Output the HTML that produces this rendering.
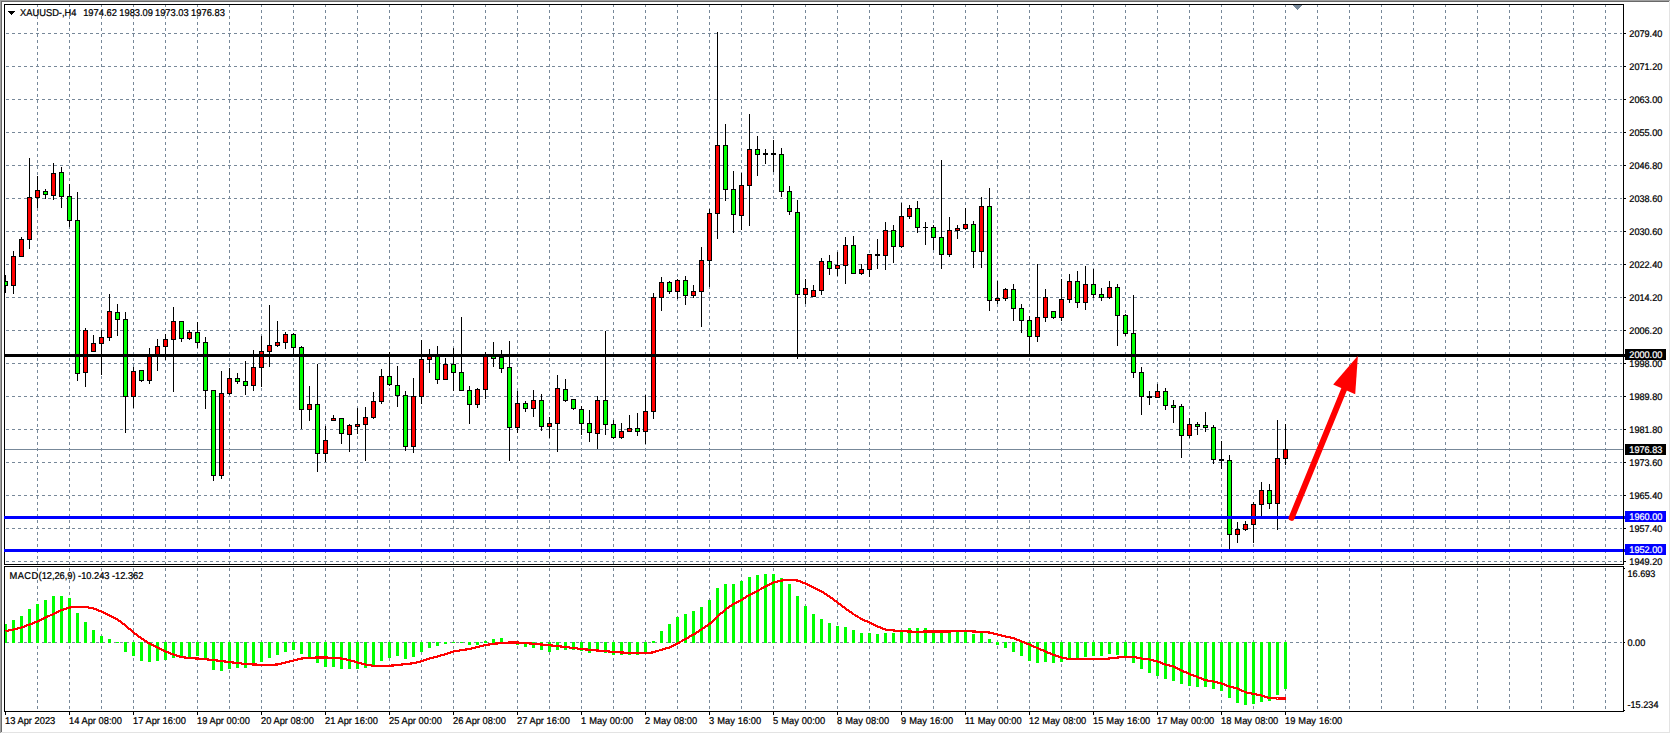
<!DOCTYPE html>
<html lang="en"><head><meta charset="utf-8"><title>XAUUSD-,H4</title>
<style>html,body{margin:0;padding:0;background:#fff;overflow:hidden}svg{display:block}text{font-family:"Liberation Sans",sans-serif;font-size:9.33px;fill:#000;stroke:#000;stroke-width:.22px}.w{fill:#fff;stroke:#fff}.d{word-spacing:.4px}.p,.w,.m{font-size:9.15px}</style></head><body>
<svg width="1671" height="734" viewBox="0 0 1671 734">
<rect x="0" y="0" width="1671" height="734" fill="#fff"/>
<g shape-rendering="crispEdges">
<rect x="0" y="0" width="1670" height="1" fill="#a0a0a0"/><rect x="0" y="0" width="1" height="733" fill="#a0a0a0"/>
<rect x="1" y="1" width="1668" height="1" fill="#696969"/><rect x="1" y="1" width="1" height="731" fill="#696969"/>
<rect x="1" y="732" width="1669" height="1" fill="#e3e3e3"/><rect x="1669" y="1" width="1" height="732" fill="#e3e3e3"/>
<g stroke="#778899" stroke-width="1" stroke-dasharray="3 3" fill="none">
<line x1="37.5" y1="4" x2="37.5" y2="564"/>
<line x1="37.5" y1="568" x2="37.5" y2="711"/>
<line x1="69.5" y1="4" x2="69.5" y2="564"/>
<line x1="69.5" y1="568" x2="69.5" y2="711"/>
<line x1="101.5" y1="4" x2="101.5" y2="564"/>
<line x1="101.5" y1="568" x2="101.5" y2="711"/>
<line x1="133.5" y1="4" x2="133.5" y2="564"/>
<line x1="133.5" y1="568" x2="133.5" y2="711"/>
<line x1="165.5" y1="4" x2="165.5" y2="564"/>
<line x1="165.5" y1="568" x2="165.5" y2="711"/>
<line x1="197.5" y1="4" x2="197.5" y2="564"/>
<line x1="197.5" y1="568" x2="197.5" y2="711"/>
<line x1="229.5" y1="4" x2="229.5" y2="564"/>
<line x1="229.5" y1="568" x2="229.5" y2="711"/>
<line x1="261.5" y1="4" x2="261.5" y2="564"/>
<line x1="261.5" y1="568" x2="261.5" y2="711"/>
<line x1="293.5" y1="4" x2="293.5" y2="564"/>
<line x1="293.5" y1="568" x2="293.5" y2="711"/>
<line x1="325.5" y1="4" x2="325.5" y2="564"/>
<line x1="325.5" y1="568" x2="325.5" y2="711"/>
<line x1="357.5" y1="4" x2="357.5" y2="564"/>
<line x1="357.5" y1="568" x2="357.5" y2="711"/>
<line x1="389.5" y1="4" x2="389.5" y2="564"/>
<line x1="389.5" y1="568" x2="389.5" y2="711"/>
<line x1="421.5" y1="4" x2="421.5" y2="564"/>
<line x1="421.5" y1="568" x2="421.5" y2="711"/>
<line x1="453.5" y1="4" x2="453.5" y2="564"/>
<line x1="453.5" y1="568" x2="453.5" y2="711"/>
<line x1="485.5" y1="4" x2="485.5" y2="564"/>
<line x1="485.5" y1="568" x2="485.5" y2="711"/>
<line x1="517.5" y1="4" x2="517.5" y2="564"/>
<line x1="517.5" y1="568" x2="517.5" y2="711"/>
<line x1="549.5" y1="4" x2="549.5" y2="564"/>
<line x1="549.5" y1="568" x2="549.5" y2="711"/>
<line x1="581.5" y1="4" x2="581.5" y2="564"/>
<line x1="581.5" y1="568" x2="581.5" y2="711"/>
<line x1="613.5" y1="4" x2="613.5" y2="564"/>
<line x1="613.5" y1="568" x2="613.5" y2="711"/>
<line x1="645.5" y1="4" x2="645.5" y2="564"/>
<line x1="645.5" y1="568" x2="645.5" y2="711"/>
<line x1="677.5" y1="4" x2="677.5" y2="564"/>
<line x1="677.5" y1="568" x2="677.5" y2="711"/>
<line x1="709.5" y1="4" x2="709.5" y2="564"/>
<line x1="709.5" y1="568" x2="709.5" y2="711"/>
<line x1="741.5" y1="4" x2="741.5" y2="564"/>
<line x1="741.5" y1="568" x2="741.5" y2="711"/>
<line x1="773.5" y1="4" x2="773.5" y2="564"/>
<line x1="773.5" y1="568" x2="773.5" y2="711"/>
<line x1="805.5" y1="4" x2="805.5" y2="564"/>
<line x1="805.5" y1="568" x2="805.5" y2="711"/>
<line x1="837.5" y1="4" x2="837.5" y2="564"/>
<line x1="837.5" y1="568" x2="837.5" y2="711"/>
<line x1="869.5" y1="4" x2="869.5" y2="564"/>
<line x1="869.5" y1="568" x2="869.5" y2="711"/>
<line x1="901.5" y1="4" x2="901.5" y2="564"/>
<line x1="901.5" y1="568" x2="901.5" y2="711"/>
<line x1="933.5" y1="4" x2="933.5" y2="564"/>
<line x1="933.5" y1="568" x2="933.5" y2="711"/>
<line x1="965.5" y1="4" x2="965.5" y2="564"/>
<line x1="965.5" y1="568" x2="965.5" y2="711"/>
<line x1="997.5" y1="4" x2="997.5" y2="564"/>
<line x1="997.5" y1="568" x2="997.5" y2="711"/>
<line x1="1029.5" y1="4" x2="1029.5" y2="564"/>
<line x1="1029.5" y1="568" x2="1029.5" y2="711"/>
<line x1="1061.5" y1="4" x2="1061.5" y2="564"/>
<line x1="1061.5" y1="568" x2="1061.5" y2="711"/>
<line x1="1093.5" y1="4" x2="1093.5" y2="564"/>
<line x1="1093.5" y1="568" x2="1093.5" y2="711"/>
<line x1="1125.5" y1="4" x2="1125.5" y2="564"/>
<line x1="1125.5" y1="568" x2="1125.5" y2="711"/>
<line x1="1157.5" y1="4" x2="1157.5" y2="564"/>
<line x1="1157.5" y1="568" x2="1157.5" y2="711"/>
<line x1="1189.5" y1="4" x2="1189.5" y2="564"/>
<line x1="1189.5" y1="568" x2="1189.5" y2="711"/>
<line x1="1221.5" y1="4" x2="1221.5" y2="564"/>
<line x1="1221.5" y1="568" x2="1221.5" y2="711"/>
<line x1="1253.5" y1="4" x2="1253.5" y2="564"/>
<line x1="1253.5" y1="568" x2="1253.5" y2="711"/>
<line x1="1285.5" y1="4" x2="1285.5" y2="564"/>
<line x1="1285.5" y1="568" x2="1285.5" y2="711"/>
<line x1="1317.5" y1="4" x2="1317.5" y2="564"/>
<line x1="1317.5" y1="568" x2="1317.5" y2="711"/>
<line x1="1349.5" y1="4" x2="1349.5" y2="564"/>
<line x1="1349.5" y1="568" x2="1349.5" y2="711"/>
<line x1="1381.5" y1="4" x2="1381.5" y2="564"/>
<line x1="1381.5" y1="568" x2="1381.5" y2="711"/>
<line x1="1413.5" y1="4" x2="1413.5" y2="564"/>
<line x1="1413.5" y1="568" x2="1413.5" y2="711"/>
<line x1="1445.5" y1="4" x2="1445.5" y2="564"/>
<line x1="1445.5" y1="568" x2="1445.5" y2="711"/>
<line x1="1477.5" y1="4" x2="1477.5" y2="564"/>
<line x1="1477.5" y1="568" x2="1477.5" y2="711"/>
<line x1="1509.5" y1="4" x2="1509.5" y2="564"/>
<line x1="1509.5" y1="568" x2="1509.5" y2="711"/>
<line x1="1541.5" y1="4" x2="1541.5" y2="564"/>
<line x1="1541.5" y1="568" x2="1541.5" y2="711"/>
<line x1="1573.5" y1="4" x2="1573.5" y2="564"/>
<line x1="1573.5" y1="568" x2="1573.5" y2="711"/>
<line x1="1605.5" y1="4" x2="1605.5" y2="564"/>
<line x1="1605.5" y1="568" x2="1605.5" y2="711"/>
<line x1="6" y1="33.5" x2="1622" y2="33.5"/>
<line x1="6" y1="66.5" x2="1622" y2="66.5"/>
<line x1="6" y1="99.5" x2="1622" y2="99.5"/>
<line x1="6" y1="132.5" x2="1622" y2="132.5"/>
<line x1="6" y1="165.5" x2="1622" y2="165.5"/>
<line x1="6" y1="198.5" x2="1622" y2="198.5"/>
<line x1="6" y1="231.5" x2="1622" y2="231.5"/>
<line x1="6" y1="264.5" x2="1622" y2="264.5"/>
<line x1="6" y1="297.5" x2="1622" y2="297.5"/>
<line x1="6" y1="330.5" x2="1622" y2="330.5"/>
<line x1="6" y1="363.5" x2="1622" y2="363.5"/>
<line x1="6" y1="396.5" x2="1622" y2="396.5"/>
<line x1="6" y1="429.5" x2="1622" y2="429.5"/>
<line x1="6" y1="462.5" x2="1622" y2="462.5"/>
<line x1="6" y1="495.5" x2="1622" y2="495.5"/>
<line x1="6" y1="528.5" x2="1622" y2="528.5"/>
<line x1="6" y1="561.5" x2="1622" y2="561.5"/>
<line x1="6" y1="642.5" x2="1622" y2="642.5"/>
</g>
<rect x="5" y="449" width="1618" height="1" fill="#778899"/>
<g fill="#778899"><rect x="1293" y="5" width="9" height="1"/><rect x="1294" y="6" width="7" height="1"/><rect x="1295" y="7" width="5" height="1"/><rect x="1296" y="8" width="3" height="1"/><rect x="1297" y="9" width="1" height="1"/></g>
</g>
<g shape-rendering="crispEdges">
<rect x="5" y="275" width="1" height="18" fill="#000"/>
<rect x="5" y="281" width="3" height="5" fill="#000"/>
<rect x="5" y="282" width="2" height="3" fill="#0f0"/>
<rect x="13" y="251" width="1" height="43" fill="#000"/>
<rect x="11" y="256" width="5" height="30" fill="#000"/>
<rect x="12" y="257" width="3" height="28" fill="#f00"/>
<rect x="21" y="237" width="1" height="20" fill="#000"/>
<rect x="19" y="239" width="5" height="18" fill="#000"/>
<rect x="20" y="240" width="3" height="16" fill="#f00"/>
<rect x="29" y="158" width="1" height="91" fill="#000"/>
<rect x="27" y="197" width="5" height="43" fill="#000"/>
<rect x="28" y="198" width="3" height="41" fill="#f00"/>
<rect x="37" y="176" width="1" height="32" fill="#000"/>
<rect x="35" y="190" width="5" height="8" fill="#000"/>
<rect x="36" y="191" width="3" height="6" fill="#f00"/>
<rect x="45" y="189" width="1" height="10" fill="#000"/>
<rect x="43" y="191" width="5" height="4" fill="#000"/>
<rect x="44" y="192" width="3" height="2" fill="#0f0"/>
<rect x="53" y="163" width="1" height="37" fill="#000"/>
<rect x="51" y="173" width="5" height="23" fill="#000"/>
<rect x="52" y="174" width="3" height="21" fill="#f00"/>
<rect x="61" y="167" width="1" height="41" fill="#000"/>
<rect x="59" y="172" width="5" height="25" fill="#000"/>
<rect x="60" y="173" width="3" height="23" fill="#0f0"/>
<rect x="69" y="184" width="1" height="43" fill="#000"/>
<rect x="67" y="196" width="5" height="25" fill="#000"/>
<rect x="68" y="197" width="3" height="23" fill="#0f0"/>
<rect x="77" y="192" width="1" height="189" fill="#000"/>
<rect x="75" y="220" width="5" height="154" fill="#000"/>
<rect x="76" y="221" width="3" height="152" fill="#0f0"/>
<rect x="85" y="328" width="1" height="59" fill="#000"/>
<rect x="83" y="330" width="5" height="43" fill="#000"/>
<rect x="84" y="331" width="3" height="41" fill="#f00"/>
<rect x="93" y="335" width="1" height="17" fill="#000"/>
<rect x="91" y="343" width="5" height="9" fill="#000"/>
<rect x="92" y="344" width="3" height="7" fill="#f00"/>
<rect x="101" y="330" width="1" height="45" fill="#000"/>
<rect x="99" y="337" width="5" height="7" fill="#000"/>
<rect x="100" y="338" width="3" height="5" fill="#f00"/>
<rect x="109" y="294" width="1" height="47" fill="#000"/>
<rect x="107" y="311" width="5" height="27" fill="#000"/>
<rect x="108" y="312" width="3" height="25" fill="#f00"/>
<rect x="117" y="304" width="1" height="32" fill="#000"/>
<rect x="115" y="312" width="5" height="8" fill="#000"/>
<rect x="116" y="313" width="3" height="6" fill="#0f0"/>
<rect x="125" y="312" width="1" height="121" fill="#000"/>
<rect x="123" y="319" width="5" height="78" fill="#000"/>
<rect x="124" y="320" width="3" height="76" fill="#0f0"/>
<rect x="133" y="367" width="1" height="41" fill="#000"/>
<rect x="131" y="371" width="5" height="26" fill="#000"/>
<rect x="132" y="372" width="3" height="24" fill="#f00"/>
<rect x="141" y="370" width="1" height="12" fill="#000"/>
<rect x="139" y="370" width="5" height="11" fill="#000"/>
<rect x="140" y="371" width="3" height="9" fill="#0f0"/>
<rect x="149" y="348" width="1" height="36" fill="#000"/>
<rect x="147" y="355" width="5" height="26" fill="#000"/>
<rect x="148" y="356" width="3" height="24" fill="#f00"/>
<rect x="157" y="339" width="1" height="32" fill="#000"/>
<rect x="155" y="346" width="5" height="10" fill="#000"/>
<rect x="156" y="347" width="3" height="8" fill="#f00"/>
<rect x="165" y="334" width="1" height="26" fill="#000"/>
<rect x="163" y="339" width="5" height="8" fill="#000"/>
<rect x="164" y="340" width="3" height="6" fill="#f00"/>
<rect x="173" y="307" width="1" height="85" fill="#000"/>
<rect x="171" y="321" width="5" height="19" fill="#000"/>
<rect x="172" y="322" width="3" height="17" fill="#f00"/>
<rect x="181" y="321" width="1" height="21" fill="#000"/>
<rect x="179" y="321" width="5" height="18" fill="#000"/>
<rect x="180" y="322" width="3" height="16" fill="#0f0"/>
<rect x="189" y="330" width="1" height="10" fill="#000"/>
<rect x="187" y="332" width="5" height="7" fill="#000"/>
<rect x="188" y="333" width="3" height="5" fill="#f00"/>
<rect x="197" y="322" width="1" height="26" fill="#000"/>
<rect x="195" y="332" width="5" height="11" fill="#000"/>
<rect x="196" y="333" width="3" height="9" fill="#0f0"/>
<rect x="205" y="337" width="1" height="72" fill="#000"/>
<rect x="203" y="342" width="5" height="49" fill="#000"/>
<rect x="204" y="343" width="3" height="47" fill="#0f0"/>
<rect x="213" y="390" width="1" height="91" fill="#000"/>
<rect x="211" y="390" width="5" height="86" fill="#000"/>
<rect x="212" y="391" width="3" height="84" fill="#0f0"/>
<rect x="221" y="371" width="1" height="108" fill="#000"/>
<rect x="219" y="393" width="5" height="83" fill="#000"/>
<rect x="220" y="394" width="3" height="81" fill="#f00"/>
<rect x="229" y="368" width="1" height="27" fill="#000"/>
<rect x="227" y="378" width="5" height="16" fill="#000"/>
<rect x="228" y="379" width="3" height="14" fill="#f00"/>
<rect x="237" y="373" width="1" height="11" fill="#000"/>
<rect x="235" y="378" width="5" height="4" fill="#000"/>
<rect x="236" y="379" width="3" height="2" fill="#0f0"/>
<rect x="245" y="361" width="1" height="34" fill="#000"/>
<rect x="243" y="381" width="5" height="5" fill="#000"/>
<rect x="244" y="382" width="3" height="3" fill="#0f0"/>
<rect x="253" y="350" width="1" height="41" fill="#000"/>
<rect x="251" y="367" width="5" height="19" fill="#000"/>
<rect x="252" y="368" width="3" height="17" fill="#f00"/>
<rect x="261" y="336" width="1" height="51" fill="#000"/>
<rect x="259" y="351" width="5" height="17" fill="#000"/>
<rect x="260" y="352" width="3" height="15" fill="#f00"/>
<rect x="269" y="305" width="1" height="62" fill="#000"/>
<rect x="267" y="345" width="5" height="7" fill="#000"/>
<rect x="268" y="346" width="3" height="5" fill="#f00"/>
<rect x="277" y="321" width="1" height="26" fill="#000"/>
<rect x="275" y="342" width="5" height="4" fill="#000"/>
<rect x="276" y="343" width="3" height="2" fill="#f00"/>
<rect x="285" y="332" width="1" height="17" fill="#000"/>
<rect x="283" y="334" width="5" height="9" fill="#000"/>
<rect x="284" y="335" width="3" height="7" fill="#f00"/>
<rect x="293" y="333" width="1" height="22" fill="#000"/>
<rect x="291" y="334" width="5" height="14" fill="#000"/>
<rect x="292" y="335" width="3" height="12" fill="#0f0"/>
<rect x="301" y="346" width="1" height="83" fill="#000"/>
<rect x="299" y="347" width="5" height="63" fill="#000"/>
<rect x="300" y="348" width="3" height="61" fill="#0f0"/>
<rect x="309" y="386" width="1" height="35" fill="#000"/>
<rect x="307" y="404" width="5" height="6" fill="#000"/>
<rect x="308" y="405" width="3" height="4" fill="#f00"/>
<rect x="317" y="364" width="1" height="108" fill="#000"/>
<rect x="315" y="404" width="5" height="50" fill="#000"/>
<rect x="316" y="405" width="3" height="48" fill="#0f0"/>
<rect x="325" y="426" width="1" height="36" fill="#000"/>
<rect x="323" y="440" width="5" height="14" fill="#000"/>
<rect x="324" y="441" width="3" height="12" fill="#f00"/>
<rect x="333" y="415" width="1" height="6" fill="#000"/>
<rect x="331" y="418" width="5" height="3" fill="#000"/>
<rect x="332" y="419" width="3" height="1" fill="#f00"/>
<rect x="341" y="418" width="1" height="26" fill="#000"/>
<rect x="339" y="418" width="5" height="16" fill="#000"/>
<rect x="340" y="419" width="3" height="14" fill="#0f0"/>
<rect x="349" y="424" width="1" height="28" fill="#000"/>
<rect x="347" y="425" width="5" height="10" fill="#000"/>
<rect x="348" y="426" width="3" height="8" fill="#f00"/>
<rect x="357" y="408" width="1" height="26" fill="#000"/>
<rect x="355" y="424" width="5" height="3" fill="#000"/>
<rect x="356" y="425" width="3" height="1" fill="#f00"/>
<rect x="365" y="407" width="1" height="54" fill="#000"/>
<rect x="363" y="417" width="5" height="8" fill="#000"/>
<rect x="364" y="418" width="3" height="6" fill="#f00"/>
<rect x="373" y="392" width="1" height="27" fill="#000"/>
<rect x="371" y="401" width="5" height="17" fill="#000"/>
<rect x="372" y="402" width="3" height="15" fill="#f00"/>
<rect x="381" y="369" width="1" height="35" fill="#000"/>
<rect x="379" y="376" width="5" height="26" fill="#000"/>
<rect x="380" y="377" width="3" height="24" fill="#f00"/>
<rect x="389" y="352" width="1" height="34" fill="#000"/>
<rect x="387" y="376" width="5" height="9" fill="#000"/>
<rect x="388" y="377" width="3" height="7" fill="#0f0"/>
<rect x="397" y="366" width="1" height="41" fill="#000"/>
<rect x="395" y="385" width="5" height="11" fill="#000"/>
<rect x="396" y="386" width="3" height="9" fill="#0f0"/>
<rect x="405" y="391" width="1" height="60" fill="#000"/>
<rect x="403" y="395" width="5" height="52" fill="#000"/>
<rect x="404" y="396" width="3" height="50" fill="#0f0"/>
<rect x="413" y="378" width="1" height="75" fill="#000"/>
<rect x="411" y="396" width="5" height="51" fill="#000"/>
<rect x="412" y="397" width="3" height="49" fill="#f00"/>
<rect x="421" y="340" width="1" height="64" fill="#000"/>
<rect x="419" y="359" width="5" height="38" fill="#000"/>
<rect x="420" y="360" width="3" height="36" fill="#f00"/>
<rect x="429" y="349" width="1" height="24" fill="#000"/>
<rect x="427" y="355" width="5" height="5" fill="#000"/>
<rect x="428" y="356" width="3" height="3" fill="#f00"/>
<rect x="437" y="346" width="1" height="38" fill="#000"/>
<rect x="435" y="355" width="5" height="25" fill="#000"/>
<rect x="436" y="356" width="3" height="23" fill="#0f0"/>
<rect x="445" y="358" width="1" height="22" fill="#000"/>
<rect x="443" y="364" width="5" height="16" fill="#000"/>
<rect x="444" y="365" width="3" height="14" fill="#f00"/>
<rect x="453" y="348" width="1" height="43" fill="#000"/>
<rect x="451" y="364" width="5" height="9" fill="#000"/>
<rect x="452" y="365" width="3" height="7" fill="#0f0"/>
<rect x="461" y="317" width="1" height="74" fill="#000"/>
<rect x="459" y="372" width="5" height="19" fill="#000"/>
<rect x="460" y="373" width="3" height="17" fill="#0f0"/>
<rect x="469" y="386" width="1" height="38" fill="#000"/>
<rect x="467" y="390" width="5" height="15" fill="#000"/>
<rect x="468" y="391" width="3" height="13" fill="#0f0"/>
<rect x="477" y="388" width="1" height="20" fill="#000"/>
<rect x="475" y="389" width="5" height="16" fill="#000"/>
<rect x="476" y="390" width="3" height="14" fill="#f00"/>
<rect x="485" y="352" width="1" height="47" fill="#000"/>
<rect x="483" y="355" width="5" height="35" fill="#000"/>
<rect x="484" y="356" width="3" height="33" fill="#f00"/>
<rect x="493" y="342" width="1" height="25" fill="#000"/>
<rect x="491" y="355" width="5" height="4" fill="#000"/>
<rect x="492" y="356" width="3" height="2" fill="#0f0"/>
<rect x="501" y="350" width="1" height="23" fill="#000"/>
<rect x="499" y="357" width="5" height="12" fill="#000"/>
<rect x="500" y="358" width="3" height="10" fill="#0f0"/>
<rect x="509" y="341" width="1" height="120" fill="#000"/>
<rect x="507" y="367" width="5" height="61" fill="#000"/>
<rect x="508" y="368" width="3" height="59" fill="#0f0"/>
<rect x="517" y="391" width="1" height="42" fill="#000"/>
<rect x="515" y="403" width="5" height="25" fill="#000"/>
<rect x="516" y="404" width="3" height="23" fill="#f00"/>
<rect x="525" y="401" width="1" height="11" fill="#000"/>
<rect x="523" y="403" width="5" height="6" fill="#000"/>
<rect x="524" y="404" width="3" height="4" fill="#0f0"/>
<rect x="533" y="390" width="1" height="27" fill="#000"/>
<rect x="531" y="400" width="5" height="9" fill="#000"/>
<rect x="532" y="401" width="3" height="7" fill="#f00"/>
<rect x="541" y="394" width="1" height="37" fill="#000"/>
<rect x="539" y="400" width="5" height="27" fill="#000"/>
<rect x="540" y="401" width="3" height="25" fill="#0f0"/>
<rect x="549" y="417" width="1" height="21" fill="#000"/>
<rect x="547" y="423" width="5" height="4" fill="#000"/>
<rect x="548" y="424" width="3" height="2" fill="#f00"/>
<rect x="557" y="375" width="1" height="77" fill="#000"/>
<rect x="555" y="388" width="5" height="36" fill="#000"/>
<rect x="556" y="389" width="3" height="34" fill="#f00"/>
<rect x="565" y="379" width="1" height="23" fill="#000"/>
<rect x="563" y="389" width="5" height="12" fill="#000"/>
<rect x="564" y="390" width="3" height="10" fill="#0f0"/>
<rect x="573" y="399" width="1" height="11" fill="#000"/>
<rect x="571" y="399" width="5" height="10" fill="#000"/>
<rect x="572" y="400" width="3" height="8" fill="#0f0"/>
<rect x="581" y="406" width="1" height="29" fill="#000"/>
<rect x="579" y="409" width="5" height="15" fill="#000"/>
<rect x="580" y="410" width="3" height="13" fill="#0f0"/>
<rect x="589" y="410" width="1" height="32" fill="#000"/>
<rect x="587" y="423" width="5" height="10" fill="#000"/>
<rect x="588" y="424" width="3" height="8" fill="#0f0"/>
<rect x="597" y="396" width="1" height="53" fill="#000"/>
<rect x="595" y="400" width="5" height="34" fill="#000"/>
<rect x="596" y="401" width="3" height="32" fill="#f00"/>
<rect x="605" y="331" width="1" height="104" fill="#000"/>
<rect x="603" y="400" width="5" height="25" fill="#000"/>
<rect x="604" y="401" width="3" height="23" fill="#0f0"/>
<rect x="613" y="420" width="1" height="19" fill="#000"/>
<rect x="611" y="424" width="5" height="14" fill="#000"/>
<rect x="612" y="425" width="3" height="12" fill="#0f0"/>
<rect x="621" y="423" width="1" height="16" fill="#000"/>
<rect x="619" y="431" width="5" height="7" fill="#000"/>
<rect x="620" y="432" width="3" height="5" fill="#f00"/>
<rect x="629" y="415" width="1" height="17" fill="#000"/>
<rect x="627" y="428" width="5" height="4" fill="#000"/>
<rect x="628" y="429" width="3" height="2" fill="#f00"/>
<rect x="637" y="413" width="1" height="23" fill="#000"/>
<rect x="635" y="428" width="5" height="4" fill="#000"/>
<rect x="636" y="429" width="3" height="2" fill="#0f0"/>
<rect x="645" y="395" width="1" height="49" fill="#000"/>
<rect x="643" y="411" width="5" height="21" fill="#000"/>
<rect x="644" y="412" width="3" height="19" fill="#f00"/>
<rect x="653" y="293" width="1" height="126" fill="#000"/>
<rect x="651" y="297" width="5" height="115" fill="#000"/>
<rect x="652" y="298" width="3" height="113" fill="#f00"/>
<rect x="661" y="277" width="1" height="34" fill="#000"/>
<rect x="659" y="282" width="5" height="16" fill="#000"/>
<rect x="660" y="283" width="3" height="14" fill="#f00"/>
<rect x="669" y="281" width="1" height="13" fill="#000"/>
<rect x="667" y="282" width="5" height="10" fill="#000"/>
<rect x="668" y="283" width="3" height="8" fill="#0f0"/>
<rect x="677" y="279" width="1" height="20" fill="#000"/>
<rect x="675" y="280" width="5" height="12" fill="#000"/>
<rect x="676" y="281" width="3" height="10" fill="#f00"/>
<rect x="685" y="276" width="1" height="29" fill="#000"/>
<rect x="683" y="280" width="5" height="16" fill="#000"/>
<rect x="684" y="281" width="3" height="14" fill="#0f0"/>
<rect x="693" y="285" width="1" height="13" fill="#000"/>
<rect x="691" y="291" width="5" height="5" fill="#000"/>
<rect x="692" y="292" width="3" height="3" fill="#f00"/>
<rect x="701" y="247" width="1" height="80" fill="#000"/>
<rect x="699" y="260" width="5" height="32" fill="#000"/>
<rect x="700" y="261" width="3" height="30" fill="#f00"/>
<rect x="709" y="209" width="1" height="78" fill="#000"/>
<rect x="707" y="213" width="5" height="48" fill="#000"/>
<rect x="708" y="214" width="3" height="46" fill="#f00"/>
<rect x="717" y="32" width="1" height="207" fill="#000"/>
<rect x="715" y="145" width="5" height="69" fill="#000"/>
<rect x="716" y="146" width="3" height="67" fill="#f00"/>
<rect x="725" y="124" width="1" height="77" fill="#000"/>
<rect x="723" y="145" width="5" height="45" fill="#000"/>
<rect x="724" y="146" width="3" height="43" fill="#0f0"/>
<rect x="733" y="171" width="1" height="62" fill="#000"/>
<rect x="731" y="189" width="5" height="26" fill="#000"/>
<rect x="732" y="190" width="3" height="24" fill="#0f0"/>
<rect x="741" y="173" width="1" height="57" fill="#000"/>
<rect x="739" y="185" width="5" height="31" fill="#000"/>
<rect x="740" y="186" width="3" height="29" fill="#f00"/>
<rect x="749" y="114" width="1" height="112" fill="#000"/>
<rect x="747" y="149" width="5" height="37" fill="#000"/>
<rect x="748" y="150" width="3" height="35" fill="#f00"/>
<rect x="757" y="136" width="1" height="40" fill="#000"/>
<rect x="755" y="149" width="5" height="6" fill="#000"/>
<rect x="756" y="150" width="3" height="4" fill="#0f0"/>
<rect x="765" y="149" width="1" height="15" fill="#000"/>
<rect x="763" y="153" width="5" height="2" fill="#000"/>
<rect x="773" y="140" width="1" height="32" fill="#000"/>
<rect x="771" y="153" width="5" height="2" fill="#000"/>
<rect x="781" y="148" width="1" height="49" fill="#000"/>
<rect x="779" y="154" width="5" height="38" fill="#000"/>
<rect x="780" y="155" width="3" height="36" fill="#0f0"/>
<rect x="789" y="186" width="1" height="29" fill="#000"/>
<rect x="787" y="191" width="5" height="21" fill="#000"/>
<rect x="788" y="192" width="3" height="19" fill="#0f0"/>
<rect x="797" y="200" width="1" height="159" fill="#000"/>
<rect x="795" y="212" width="5" height="83" fill="#000"/>
<rect x="796" y="213" width="3" height="81" fill="#0f0"/>
<rect x="805" y="279" width="1" height="25" fill="#000"/>
<rect x="803" y="288" width="5" height="7" fill="#000"/>
<rect x="804" y="289" width="3" height="5" fill="#f00"/>
<rect x="813" y="285" width="1" height="12" fill="#000"/>
<rect x="811" y="290" width="5" height="7" fill="#000"/>
<rect x="812" y="291" width="3" height="5" fill="#f00"/>
<rect x="821" y="258" width="1" height="37" fill="#000"/>
<rect x="819" y="261" width="5" height="30" fill="#000"/>
<rect x="820" y="262" width="3" height="28" fill="#f00"/>
<rect x="829" y="255" width="1" height="20" fill="#000"/>
<rect x="827" y="261" width="5" height="8" fill="#000"/>
<rect x="828" y="262" width="3" height="6" fill="#0f0"/>
<rect x="837" y="252" width="1" height="24" fill="#000"/>
<rect x="835" y="265" width="5" height="4" fill="#000"/>
<rect x="836" y="266" width="3" height="2" fill="#f00"/>
<rect x="845" y="237" width="1" height="47" fill="#000"/>
<rect x="843" y="245" width="5" height="21" fill="#000"/>
<rect x="844" y="246" width="3" height="19" fill="#f00"/>
<rect x="853" y="236" width="1" height="38" fill="#000"/>
<rect x="851" y="245" width="5" height="29" fill="#000"/>
<rect x="852" y="246" width="3" height="27" fill="#0f0"/>
<rect x="861" y="264" width="1" height="11" fill="#000"/>
<rect x="859" y="269" width="5" height="5" fill="#000"/>
<rect x="860" y="270" width="3" height="3" fill="#f00"/>
<rect x="869" y="254" width="1" height="23" fill="#000"/>
<rect x="867" y="254" width="5" height="16" fill="#000"/>
<rect x="868" y="255" width="3" height="14" fill="#f00"/>
<rect x="877" y="239" width="1" height="30" fill="#000"/>
<rect x="875" y="254" width="5" height="2" fill="#000"/>
<rect x="885" y="222" width="1" height="48" fill="#000"/>
<rect x="883" y="230" width="5" height="26" fill="#000"/>
<rect x="884" y="231" width="3" height="24" fill="#f00"/>
<rect x="893" y="225" width="1" height="38" fill="#000"/>
<rect x="891" y="230" width="5" height="17" fill="#000"/>
<rect x="892" y="231" width="3" height="15" fill="#0f0"/>
<rect x="901" y="203" width="1" height="45" fill="#000"/>
<rect x="899" y="216" width="5" height="31" fill="#000"/>
<rect x="900" y="217" width="3" height="29" fill="#f00"/>
<rect x="909" y="205" width="1" height="14" fill="#000"/>
<rect x="907" y="208" width="5" height="9" fill="#000"/>
<rect x="908" y="209" width="3" height="7" fill="#f00"/>
<rect x="917" y="201" width="1" height="32" fill="#000"/>
<rect x="915" y="208" width="5" height="20" fill="#000"/>
<rect x="916" y="209" width="3" height="18" fill="#0f0"/>
<rect x="925" y="222" width="1" height="23" fill="#000"/>
<rect x="923" y="227" width="5" height="1" fill="#000"/>
<rect x="933" y="225" width="1" height="25" fill="#000"/>
<rect x="931" y="227" width="5" height="11" fill="#000"/>
<rect x="932" y="228" width="3" height="9" fill="#0f0"/>
<rect x="941" y="160" width="1" height="109" fill="#000"/>
<rect x="939" y="237" width="5" height="18" fill="#000"/>
<rect x="940" y="238" width="3" height="16" fill="#0f0"/>
<rect x="949" y="217" width="1" height="40" fill="#000"/>
<rect x="947" y="230" width="5" height="25" fill="#000"/>
<rect x="948" y="231" width="3" height="23" fill="#f00"/>
<rect x="957" y="225" width="1" height="14" fill="#000"/>
<rect x="955" y="228" width="5" height="3" fill="#000"/>
<rect x="956" y="229" width="3" height="1" fill="#f00"/>
<rect x="965" y="208" width="1" height="22" fill="#000"/>
<rect x="963" y="224" width="5" height="5" fill="#000"/>
<rect x="964" y="225" width="3" height="3" fill="#f00"/>
<rect x="973" y="221" width="1" height="47" fill="#000"/>
<rect x="971" y="224" width="5" height="28" fill="#000"/>
<rect x="972" y="225" width="3" height="26" fill="#0f0"/>
<rect x="981" y="197" width="1" height="71" fill="#000"/>
<rect x="979" y="206" width="5" height="46" fill="#000"/>
<rect x="980" y="207" width="3" height="44" fill="#f00"/>
<rect x="989" y="188" width="1" height="123" fill="#000"/>
<rect x="987" y="206" width="5" height="95" fill="#000"/>
<rect x="988" y="207" width="3" height="93" fill="#0f0"/>
<rect x="997" y="281" width="1" height="23" fill="#000"/>
<rect x="995" y="298" width="5" height="3" fill="#000"/>
<rect x="996" y="299" width="3" height="1" fill="#f00"/>
<rect x="1005" y="288" width="1" height="13" fill="#000"/>
<rect x="1003" y="289" width="5" height="10" fill="#000"/>
<rect x="1004" y="290" width="3" height="8" fill="#f00"/>
<rect x="1013" y="284" width="1" height="37" fill="#000"/>
<rect x="1011" y="289" width="5" height="20" fill="#000"/>
<rect x="1012" y="290" width="3" height="18" fill="#0f0"/>
<rect x="1021" y="304" width="1" height="29" fill="#000"/>
<rect x="1019" y="308" width="5" height="13" fill="#000"/>
<rect x="1020" y="309" width="3" height="11" fill="#0f0"/>
<rect x="1029" y="316" width="1" height="38" fill="#000"/>
<rect x="1027" y="320" width="5" height="17" fill="#000"/>
<rect x="1028" y="321" width="3" height="15" fill="#0f0"/>
<rect x="1037" y="264" width="1" height="78" fill="#000"/>
<rect x="1035" y="317" width="5" height="20" fill="#000"/>
<rect x="1036" y="318" width="3" height="18" fill="#f00"/>
<rect x="1045" y="289" width="1" height="33" fill="#000"/>
<rect x="1043" y="297" width="5" height="21" fill="#000"/>
<rect x="1044" y="298" width="3" height="19" fill="#f00"/>
<rect x="1053" y="311" width="1" height="8" fill="#000"/>
<rect x="1051" y="311" width="5" height="7" fill="#000"/>
<rect x="1052" y="312" width="3" height="5" fill="#0f0"/>
<rect x="1061" y="279" width="1" height="42" fill="#000"/>
<rect x="1059" y="299" width="5" height="19" fill="#000"/>
<rect x="1060" y="300" width="3" height="17" fill="#f00"/>
<rect x="1069" y="274" width="1" height="29" fill="#000"/>
<rect x="1067" y="281" width="5" height="19" fill="#000"/>
<rect x="1068" y="282" width="3" height="17" fill="#f00"/>
<rect x="1077" y="271" width="1" height="37" fill="#000"/>
<rect x="1075" y="281" width="5" height="22" fill="#000"/>
<rect x="1076" y="282" width="3" height="20" fill="#0f0"/>
<rect x="1085" y="266" width="1" height="44" fill="#000"/>
<rect x="1083" y="284" width="5" height="19" fill="#000"/>
<rect x="1084" y="285" width="3" height="17" fill="#f00"/>
<rect x="1093" y="269" width="1" height="29" fill="#000"/>
<rect x="1091" y="284" width="5" height="11" fill="#000"/>
<rect x="1092" y="285" width="3" height="9" fill="#0f0"/>
<rect x="1101" y="288" width="1" height="13" fill="#000"/>
<rect x="1099" y="294" width="5" height="4" fill="#000"/>
<rect x="1100" y="295" width="3" height="2" fill="#0f0"/>
<rect x="1109" y="281" width="1" height="18" fill="#000"/>
<rect x="1107" y="287" width="5" height="11" fill="#000"/>
<rect x="1108" y="288" width="3" height="9" fill="#f00"/>
<rect x="1117" y="284" width="1" height="62" fill="#000"/>
<rect x="1115" y="287" width="5" height="29" fill="#000"/>
<rect x="1116" y="288" width="3" height="27" fill="#0f0"/>
<rect x="1125" y="314" width="1" height="22" fill="#000"/>
<rect x="1123" y="315" width="5" height="19" fill="#000"/>
<rect x="1124" y="316" width="3" height="17" fill="#0f0"/>
<rect x="1133" y="295" width="1" height="83" fill="#000"/>
<rect x="1131" y="333" width="5" height="40" fill="#000"/>
<rect x="1132" y="334" width="3" height="38" fill="#0f0"/>
<rect x="1141" y="367" width="1" height="48" fill="#000"/>
<rect x="1139" y="372" width="5" height="25" fill="#000"/>
<rect x="1140" y="373" width="3" height="23" fill="#0f0"/>
<rect x="1149" y="391" width="1" height="14" fill="#000"/>
<rect x="1147" y="396" width="5" height="2" fill="#000"/>
<rect x="1157" y="384" width="1" height="14" fill="#000"/>
<rect x="1155" y="391" width="5" height="7" fill="#000"/>
<rect x="1156" y="392" width="3" height="5" fill="#f00"/>
<rect x="1165" y="388" width="1" height="22" fill="#000"/>
<rect x="1163" y="391" width="5" height="15" fill="#000"/>
<rect x="1164" y="392" width="3" height="13" fill="#0f0"/>
<rect x="1173" y="400" width="1" height="23" fill="#000"/>
<rect x="1171" y="405" width="5" height="3" fill="#000"/>
<rect x="1172" y="406" width="3" height="1" fill="#0f0"/>
<rect x="1181" y="404" width="1" height="54" fill="#000"/>
<rect x="1179" y="406" width="5" height="30" fill="#000"/>
<rect x="1180" y="407" width="3" height="28" fill="#0f0"/>
<rect x="1189" y="418" width="1" height="20" fill="#000"/>
<rect x="1187" y="424" width="5" height="12" fill="#000"/>
<rect x="1188" y="425" width="3" height="10" fill="#f00"/>
<rect x="1197" y="422" width="1" height="13" fill="#000"/>
<rect x="1195" y="424" width="5" height="3" fill="#000"/>
<rect x="1196" y="425" width="3" height="1" fill="#0f0"/>
<rect x="1205" y="412" width="1" height="20" fill="#000"/>
<rect x="1203" y="425" width="5" height="3" fill="#000"/>
<rect x="1204" y="426" width="3" height="1" fill="#0f0"/>
<rect x="1213" y="425" width="1" height="39" fill="#000"/>
<rect x="1211" y="427" width="5" height="33" fill="#000"/>
<rect x="1212" y="428" width="3" height="31" fill="#0f0"/>
<rect x="1221" y="441" width="1" height="28" fill="#000"/>
<rect x="1219" y="459" width="5" height="2" fill="#000"/>
<rect x="1229" y="455" width="1" height="94" fill="#000"/>
<rect x="1227" y="460" width="5" height="75" fill="#000"/>
<rect x="1228" y="461" width="3" height="73" fill="#0f0"/>
<rect x="1237" y="522" width="1" height="21" fill="#000"/>
<rect x="1235" y="529" width="5" height="6" fill="#000"/>
<rect x="1236" y="530" width="3" height="4" fill="#f00"/>
<rect x="1245" y="521" width="1" height="10" fill="#000"/>
<rect x="1243" y="524" width="5" height="6" fill="#000"/>
<rect x="1244" y="525" width="3" height="4" fill="#f00"/>
<rect x="1253" y="502" width="1" height="41" fill="#000"/>
<rect x="1251" y="504" width="5" height="21" fill="#000"/>
<rect x="1252" y="505" width="3" height="19" fill="#f00"/>
<rect x="1261" y="482" width="1" height="35" fill="#000"/>
<rect x="1259" y="490" width="5" height="15" fill="#000"/>
<rect x="1260" y="491" width="3" height="13" fill="#f00"/>
<rect x="1269" y="484" width="1" height="25" fill="#000"/>
<rect x="1267" y="490" width="5" height="14" fill="#000"/>
<rect x="1268" y="491" width="3" height="12" fill="#0f0"/>
<rect x="1277" y="420" width="1" height="110" fill="#000"/>
<rect x="1275" y="458" width="5" height="46" fill="#000"/>
<rect x="1276" y="459" width="3" height="44" fill="#f00"/>
<rect x="1285" y="424" width="1" height="41" fill="#000"/>
<rect x="1283" y="449" width="5" height="10" fill="#000"/>
<rect x="1284" y="450" width="3" height="8" fill="#f00"/>
</g>
<g shape-rendering="crispEdges" fill="#0f0">
<rect x="5" y="624" width="2" height="19"/>
<rect x="12" y="620" width="3" height="23"/>
<rect x="20" y="616" width="3" height="27"/>
<rect x="28" y="609" width="3" height="34"/>
<rect x="36" y="604" width="3" height="39"/>
<rect x="44" y="600" width="3" height="43"/>
<rect x="52" y="596" width="3" height="47"/>
<rect x="60" y="596" width="3" height="47"/>
<rect x="68" y="598" width="3" height="45"/>
<rect x="76" y="613" width="3" height="30"/>
<rect x="84" y="622" width="3" height="21"/>
<rect x="92" y="630" width="3" height="13"/>
<rect x="100" y="636" width="3" height="7"/>
<rect x="108" y="639" width="3" height="4"/>
<rect x="116" y="642" width="3" height="1"/>
<rect x="124" y="642" width="3" height="10"/>
<rect x="132" y="642" width="3" height="14"/>
<rect x="140" y="642" width="3" height="19"/>
<rect x="148" y="642" width="3" height="20"/>
<rect x="156" y="642" width="3" height="19"/>
<rect x="164" y="642" width="3" height="18"/>
<rect x="172" y="642" width="3" height="16"/>
<rect x="180" y="642" width="3" height="14"/>
<rect x="188" y="642" width="3" height="15"/>
<rect x="196" y="642" width="3" height="14"/>
<rect x="204" y="642" width="3" height="18"/>
<rect x="212" y="642" width="3" height="28"/>
<rect x="220" y="642" width="3" height="29"/>
<rect x="228" y="642" width="3" height="27"/>
<rect x="236" y="642" width="3" height="26"/>
<rect x="244" y="642" width="3" height="26"/>
<rect x="252" y="642" width="3" height="23"/>
<rect x="260" y="642" width="3" height="20"/>
<rect x="268" y="642" width="3" height="16"/>
<rect x="276" y="642" width="3" height="13"/>
<rect x="284" y="642" width="3" height="10"/>
<rect x="292" y="642" width="3" height="8"/>
<rect x="300" y="642" width="3" height="12"/>
<rect x="308" y="642" width="3" height="16"/>
<rect x="316" y="642" width="3" height="21"/>
<rect x="324" y="642" width="3" height="25"/>
<rect x="332" y="642" width="3" height="25"/>
<rect x="340" y="642" width="3" height="27"/>
<rect x="348" y="642" width="3" height="27"/>
<rect x="356" y="642" width="3" height="27"/>
<rect x="364" y="642" width="3" height="26"/>
<rect x="372" y="642" width="3" height="23"/>
<rect x="380" y="642" width="3" height="19"/>
<rect x="388" y="642" width="3" height="16"/>
<rect x="396" y="642" width="3" height="14"/>
<rect x="404" y="642" width="3" height="17"/>
<rect x="412" y="642" width="3" height="15"/>
<rect x="420" y="642" width="3" height="10"/>
<rect x="428" y="642" width="3" height="6"/>
<rect x="436" y="642" width="3" height="4"/>
<rect x="444" y="642" width="3" height="2"/>
<rect x="452" y="642" width="3" height="1"/>
<rect x="460" y="642" width="3" height="1"/>
<rect x="468" y="642" width="3" height="3"/>
<rect x="476" y="642" width="3" height="3"/>
<rect x="484" y="641" width="3" height="2"/>
<rect x="492" y="639" width="3" height="4"/>
<rect x="500" y="638" width="3" height="5"/>
<rect x="508" y="642" width="3" height="2"/>
<rect x="516" y="642" width="3" height="3"/>
<rect x="524" y="642" width="3" height="5"/>
<rect x="532" y="642" width="3" height="6"/>
<rect x="540" y="642" width="3" height="8"/>
<rect x="548" y="642" width="3" height="10"/>
<rect x="556" y="642" width="3" height="8"/>
<rect x="564" y="642" width="3" height="8"/>
<rect x="572" y="642" width="3" height="8"/>
<rect x="580" y="642" width="3" height="9"/>
<rect x="588" y="642" width="3" height="11"/>
<rect x="596" y="642" width="3" height="10"/>
<rect x="604" y="642" width="3" height="11"/>
<rect x="612" y="642" width="3" height="13"/>
<rect x="620" y="642" width="3" height="13"/>
<rect x="628" y="642" width="3" height="13"/>
<rect x="636" y="642" width="3" height="13"/>
<rect x="644" y="642" width="3" height="12"/>
<rect x="652" y="641" width="3" height="2"/>
<rect x="660" y="631" width="3" height="12"/>
<rect x="668" y="624" width="3" height="19"/>
<rect x="676" y="617" width="3" height="26"/>
<rect x="684" y="614" width="3" height="29"/>
<rect x="692" y="611" width="3" height="32"/>
<rect x="700" y="607" width="3" height="36"/>
<rect x="708" y="600" width="3" height="43"/>
<rect x="716" y="588" width="3" height="55"/>
<rect x="724" y="584" width="3" height="59"/>
<rect x="732" y="584" width="3" height="59"/>
<rect x="740" y="581" width="3" height="62"/>
<rect x="748" y="577" width="3" height="66"/>
<rect x="756" y="575" width="3" height="68"/>
<rect x="764" y="574" width="3" height="69"/>
<rect x="772" y="574" width="3" height="69"/>
<rect x="780" y="578" width="3" height="65"/>
<rect x="788" y="584" width="3" height="59"/>
<rect x="796" y="596" width="3" height="47"/>
<rect x="804" y="606" width="3" height="37"/>
<rect x="812" y="614" width="3" height="29"/>
<rect x="820" y="619" width="3" height="24"/>
<rect x="828" y="623" width="3" height="20"/>
<rect x="836" y="626" width="3" height="17"/>
<rect x="844" y="627" width="3" height="16"/>
<rect x="852" y="630" width="3" height="13"/>
<rect x="860" y="633" width="3" height="10"/>
<rect x="868" y="633" width="3" height="10"/>
<rect x="876" y="634" width="3" height="9"/>
<rect x="884" y="633" width="3" height="10"/>
<rect x="892" y="633" width="3" height="10"/>
<rect x="900" y="631" width="3" height="12"/>
<rect x="908" y="628" width="3" height="15"/>
<rect x="916" y="628" width="3" height="15"/>
<rect x="924" y="628" width="3" height="15"/>
<rect x="932" y="630" width="3" height="13"/>
<rect x="940" y="631" width="3" height="12"/>
<rect x="948" y="631" width="3" height="12"/>
<rect x="956" y="630" width="3" height="13"/>
<rect x="964" y="631" width="3" height="12"/>
<rect x="972" y="634" width="3" height="9"/>
<rect x="980" y="632" width="3" height="11"/>
<rect x="988" y="639" width="3" height="4"/>
<rect x="996" y="642" width="3" height="3"/>
<rect x="1004" y="642" width="3" height="6"/>
<rect x="1012" y="642" width="3" height="10"/>
<rect x="1020" y="642" width="3" height="14"/>
<rect x="1028" y="642" width="3" height="19"/>
<rect x="1036" y="642" width="3" height="21"/>
<rect x="1044" y="642" width="3" height="20"/>
<rect x="1052" y="642" width="3" height="21"/>
<rect x="1060" y="642" width="3" height="20"/>
<rect x="1068" y="642" width="3" height="16"/>
<rect x="1076" y="642" width="3" height="16"/>
<rect x="1084" y="642" width="3" height="15"/>
<rect x="1092" y="642" width="3" height="14"/>
<rect x="1100" y="642" width="3" height="14"/>
<rect x="1108" y="642" width="3" height="12"/>
<rect x="1116" y="642" width="3" height="13"/>
<rect x="1124" y="642" width="3" height="16"/>
<rect x="1132" y="642" width="3" height="21"/>
<rect x="1140" y="642" width="3" height="27"/>
<rect x="1148" y="642" width="3" height="31"/>
<rect x="1156" y="642" width="3" height="34"/>
<rect x="1164" y="642" width="3" height="37"/>
<rect x="1172" y="642" width="3" height="39"/>
<rect x="1180" y="642" width="3" height="42"/>
<rect x="1188" y="642" width="3" height="44"/>
<rect x="1196" y="642" width="3" height="45"/>
<rect x="1204" y="642" width="3" height="45"/>
<rect x="1212" y="642" width="3" height="47"/>
<rect x="1220" y="642" width="3" height="49"/>
<rect x="1228" y="642" width="3" height="56"/>
<rect x="1236" y="642" width="3" height="61"/>
<rect x="1244" y="642" width="3" height="63"/>
<rect x="1252" y="642" width="3" height="62"/>
<rect x="1260" y="642" width="3" height="60"/>
<rect x="1268" y="642" width="3" height="59"/>
<rect x="1276" y="642" width="3" height="53"/>
<rect x="1284" y="642" width="3" height="47"/>
</g>
<polyline points="5.5,631.2 13.5,629.5 21.5,627.5 29.5,624.5 37.5,621.5 45.5,617.5 53.5,614.0 61.5,610.1 69.5,607.5 77.5,606.9 85.5,606.9 93.5,608.5 101.5,611.5 109.5,615.5 117.5,619.5 125.5,625.5 133.5,632.5 141.5,638.5 149.5,643.5 157.5,647.5 165.5,651.5 173.5,654.5 181.5,657.0 189.5,658.2 197.5,658.5 205.5,659.2 213.5,660.2 221.5,661.0 229.5,662.2 237.5,663.0 245.5,664.0 253.5,664.5 261.5,664.8 269.5,664.8 277.5,664.5 285.5,662.5 293.5,660.5 301.5,658.5 309.5,657.8 317.5,657.5 325.5,657.5 333.5,657.8 341.5,658.5 349.5,660.2 357.5,662.5 365.5,664.5 373.5,665.8 381.5,666.0 389.5,665.8 397.5,665.0 405.5,664.2 413.5,663.2 421.5,661.2 429.5,658.5 437.5,656.5 445.5,654.2 453.5,651.5 461.5,650.2 469.5,649.0 477.5,647.0 485.5,645.0 493.5,643.8 501.5,643.0 509.5,642.5 517.5,642.5 525.5,643.0 533.5,643.8 541.5,644.5 549.5,645.2 557.5,646.2 565.5,647.0 573.5,648.0 581.5,649.0 589.5,649.8 597.5,650.5 605.5,651.2 613.5,652.0 621.5,652.5 629.5,652.8 637.5,653.2 645.5,653.2 653.5,652.3 661.5,649.7 669.5,647.5 677.5,643.5 685.5,639.0 693.5,634.5 701.5,629.5 709.5,624.0 717.5,616.5 725.5,609.5 733.5,603.9 741.5,599.9 749.5,594.9 757.5,590.9 765.5,586.5 773.5,582.5 781.5,580.5 789.5,580.1 797.5,580.5 805.5,583.5 813.5,587.5 821.5,591.5 829.5,596.5 837.5,602.5 845.5,608.5 853.5,614.2 861.5,619.0 869.5,622.5 877.5,626.5 885.5,629.5 893.5,630.5 901.5,631.2 909.5,631.5 917.5,631.8 925.5,631.5 933.5,631.5 941.5,631.5 949.5,631.5 957.5,631.0 965.5,631.0 973.5,631.5 981.5,631.9 989.5,632.5 997.5,634.5 1005.5,636.5 1013.5,638.2 1021.5,641.5 1029.5,644.5 1037.5,648.2 1045.5,651.5 1053.5,655.0 1061.5,657.5 1069.5,659.2 1077.5,659.2 1085.5,659.2 1093.5,659.2 1101.5,659.2 1109.5,658.5 1117.5,657.5 1125.5,657.0 1133.5,657.0 1141.5,658.5 1149.5,659.5 1157.5,661.5 1165.5,664.5 1173.5,666.5 1181.5,670.5 1189.5,674.0 1197.5,677.0 1205.5,680.2 1213.5,681.5 1221.5,683.5 1229.5,686.5 1237.5,688.5 1245.5,692.2 1253.5,694.0 1261.5,695.5 1269.5,698.0 1277.5,698.5 1285.5,698.5" fill="none" stroke="#f00" stroke-width="2.2" stroke-linejoin="round" shape-rendering="crispEdges"/>
<rect x="4" y="4" width="1" height="561" fill="#000" shape-rendering="crispEdges"/>
<g shape-rendering="crispEdges">
<rect x="4" y="354" width="1621" height="3" fill="#000"/>
<rect x="4" y="516" width="1621" height="3" fill="#00f"/>
<rect x="4" y="549" width="1621" height="3" fill="#00f"/>
</g>
<g fill="#f00" stroke="none">
<line x1="1291.6" y1="517.8" x2="1345" y2="387.2" stroke="#f00" stroke-width="6" stroke-linecap="round"/>
<polygon points="1357.9,355.8 1333.2,384.4 1355.2,394.2"/>
</g>
<g shape-rendering="crispEdges" fill="#000">
<rect x="4" y="4" width="1620" height="1"/>
<rect x="4" y="564" width="1620" height="1"/>
<rect x="1623" y="4" width="1" height="561"/>
<rect x="4" y="566" width="1620" height="1"/>
<rect x="4" y="711" width="1620" height="1"/>
<rect x="4" y="566" width="1" height="146"/>
<rect x="1623" y="566" width="1" height="146"/>
<rect x="1624" y="33" width="2" height="1"/>
<rect x="1624" y="66" width="2" height="1"/>
<rect x="1624" y="99" width="2" height="1"/>
<rect x="1624" y="132" width="2" height="1"/>
<rect x="1624" y="165" width="2" height="1"/>
<rect x="1624" y="198" width="2" height="1"/>
<rect x="1624" y="231" width="2" height="1"/>
<rect x="1624" y="264" width="2" height="1"/>
<rect x="1624" y="297" width="2" height="1"/>
<rect x="1624" y="330" width="2" height="1"/>
<rect x="1624" y="363" width="2" height="1"/>
<rect x="1624" y="396" width="2" height="1"/>
<rect x="1624" y="429" width="2" height="1"/>
<rect x="1624" y="462" width="2" height="1"/>
<rect x="1624" y="495" width="2" height="1"/>
<rect x="1624" y="528" width="2" height="1"/>
<rect x="1624" y="561" width="2" height="1"/>
<rect x="1624" y="642" width="1" height="1"/>
<rect x="1624" y="568" width="1" height="1"/>
<rect x="1624" y="710" width="1" height="1"/>
<rect x="5" y="712" width="1" height="3"/>
<rect x="69" y="712" width="1" height="3"/>
<rect x="133" y="712" width="1" height="3"/>
<rect x="197" y="712" width="1" height="3"/>
<rect x="261" y="712" width="1" height="3"/>
<rect x="325" y="712" width="1" height="3"/>
<rect x="389" y="712" width="1" height="3"/>
<rect x="453" y="712" width="1" height="3"/>
<rect x="517" y="712" width="1" height="3"/>
<rect x="581" y="712" width="1" height="3"/>
<rect x="645" y="712" width="1" height="3"/>
<rect x="709" y="712" width="1" height="3"/>
<rect x="773" y="712" width="1" height="3"/>
<rect x="837" y="712" width="1" height="3"/>
<rect x="901" y="712" width="1" height="3"/>
<rect x="965" y="712" width="1" height="3"/>
<rect x="1029" y="712" width="1" height="3"/>
<rect x="1093" y="712" width="1" height="3"/>
<rect x="1157" y="712" width="1" height="3"/>
<rect x="1221" y="712" width="1" height="3"/>
<rect x="1285" y="712" width="1" height="3"/>
<rect x="1625" y="349" width="41" height="11"/>
<rect x="1625" y="444" width="41" height="11"/>
<rect x="1625" y="511" width="41" height="11" fill="#00f"/>
<rect x="1625" y="544" width="41" height="11" fill="#00f"/>
</g>
<g shape-rendering="crispEdges" fill="#000"><rect x="8" y="11" width="7" height="1"/><rect x="9" y="12" width="5" height="1"/><rect x="10" y="13" width="3" height="1"/><rect x="11" y="14" width="1" height="1"/></g>
<text transform="translate(20 16) skewX(0.05) scale(1 1.06)" xml:space="preserve" style="white-space:pre" id="title">XAUUSD-,H4  <tspan dx="1.5">1974.62</tspan> <tspan dx="-0.2">1983.09</tspan> <tspan dx="-0.6">1973.03</tspan> <tspan dx="-0.2">1976.83</tspan></text>
<text transform="translate(9.5 579) skewX(0.05) scale(1 1.06)" id="macd"><tspan letter-spacing="0.4">MACD</tspan><tspan letter-spacing="-0.04">(12,26,9) -10.243 -12.362</tspan></text>
<text transform="translate(1629.3 37) skewX(0.05) scale(1 1.06)" class="p">2079.40</text>
<text transform="translate(1629.3 70) skewX(0.05) scale(1 1.06)" class="p">2071.20</text>
<text transform="translate(1629.3 103) skewX(0.05) scale(1 1.06)" class="p">2063.00</text>
<text transform="translate(1629.3 136) skewX(0.05) scale(1 1.06)" class="p">2055.00</text>
<text transform="translate(1629.3 169) skewX(0.05) scale(1 1.06)" class="p">2046.80</text>
<text transform="translate(1629.3 202) skewX(0.05) scale(1 1.06)" class="p">2038.60</text>
<text transform="translate(1629.3 235) skewX(0.05) scale(1 1.06)" class="p">2030.60</text>
<text transform="translate(1629.3 268) skewX(0.05) scale(1 1.06)" class="p">2022.40</text>
<text transform="translate(1629.3 301) skewX(0.05) scale(1 1.06)" class="p">2014.20</text>
<text transform="translate(1629.3 334) skewX(0.05) scale(1 1.06)" class="p">2006.20</text>
<text transform="translate(1629.3 367) skewX(0.05) scale(1 1.06)" class="p">1998.00</text>
<text transform="translate(1629.3 400) skewX(0.05) scale(1 1.06)" class="p">1989.80</text>
<text transform="translate(1629.3 433) skewX(0.05) scale(1 1.06)" class="p">1981.80</text>
<text transform="translate(1629.3 466) skewX(0.05) scale(1 1.06)" class="p">1973.60</text>
<text transform="translate(1629.3 499) skewX(0.05) scale(1 1.06)" class="p">1965.40</text>
<text transform="translate(1629.3 532) skewX(0.05) scale(1 1.06)" class="p">1957.40</text>
<text transform="translate(1629.3 565) skewX(0.05) scale(1 1.06)" class="p">1949.20</text>
<text transform="translate(1629.3 358) skewX(0.05) scale(1 1.06)" class="w">2000.00</text>
<text transform="translate(1629.3 453) skewX(0.05) scale(1 1.06)" class="w">1976.83</text>
<text transform="translate(1629.3 520) skewX(0.05) scale(1 1.06)" class="w">1960.00</text>
<text transform="translate(1629.3 553) skewX(0.05) scale(1 1.06)" class="w">1952.00</text>
<text transform="translate(1627.5 577) skewX(0.05) scale(1 1.06)" class="m">16.693</text>
<text transform="translate(1627.5 646) skewX(0.05) scale(1 1.06)" class="m">0.00</text>
<text transform="translate(1627.5 708) skewX(0.05) scale(1 1.06)" class="m">-15.234</text>
<text transform="translate(5 724) skewX(0.05) scale(1 1.06)" class="e">13 Apr 2023</text>
<text transform="translate(69 724) skewX(0.05) scale(1 1.06)" class="e">14 Apr 08:00</text>
<text transform="translate(133 724) skewX(0.05) scale(1 1.06)" class="e">17 Apr 16:00</text>
<text transform="translate(197 724) skewX(0.05) scale(1 1.06)" class="e">19 Apr 00:00</text>
<text transform="translate(261 724) skewX(0.05) scale(1 1.06)" class="e">20 Apr 08:00</text>
<text transform="translate(325 724) skewX(0.05) scale(1 1.06)" class="e">21 Apr 16:00</text>
<text transform="translate(389 724) skewX(0.05) scale(1 1.06)" class="e">25 Apr 00:00</text>
<text transform="translate(453 724) skewX(0.05) scale(1 1.06)" class="e">26 Apr 08:00</text>
<text transform="translate(517 724) skewX(0.05) scale(1 1.06)" class="e">27 Apr 16:00</text>
<text transform="translate(581 724) skewX(0.05) scale(1 1.06)" class="d">1 May 00:00</text>
<text transform="translate(645 724) skewX(0.05) scale(1 1.06)" class="d">2 May 08:00</text>
<text transform="translate(709 724) skewX(0.05) scale(1 1.06)" class="d">3 May 16:00</text>
<text transform="translate(773 724) skewX(0.05) scale(1 1.06)" class="d">5 May 00:00</text>
<text transform="translate(837 724) skewX(0.05) scale(1 1.06)" class="d">8 May 08:00</text>
<text transform="translate(901 724) skewX(0.05) scale(1 1.06)" class="d">9 May 16:00</text>
<text transform="translate(965 724) skewX(0.05) scale(1 1.06)" class="d">11 May 00:00</text>
<text transform="translate(1029 724) skewX(0.05) scale(1 1.06)" class="d">12 May 08:00</text>
<text transform="translate(1093 724) skewX(0.05) scale(1 1.06)" class="d">15 May 16:00</text>
<text transform="translate(1157 724) skewX(0.05) scale(1 1.06)" class="d">17 May 00:00</text>
<text transform="translate(1221 724) skewX(0.05) scale(1 1.06)" class="d">18 May 08:00</text>
<text transform="translate(1285 724) skewX(0.05) scale(1 1.06)" class="d">19 May 16:00</text>
</svg></body></html>
